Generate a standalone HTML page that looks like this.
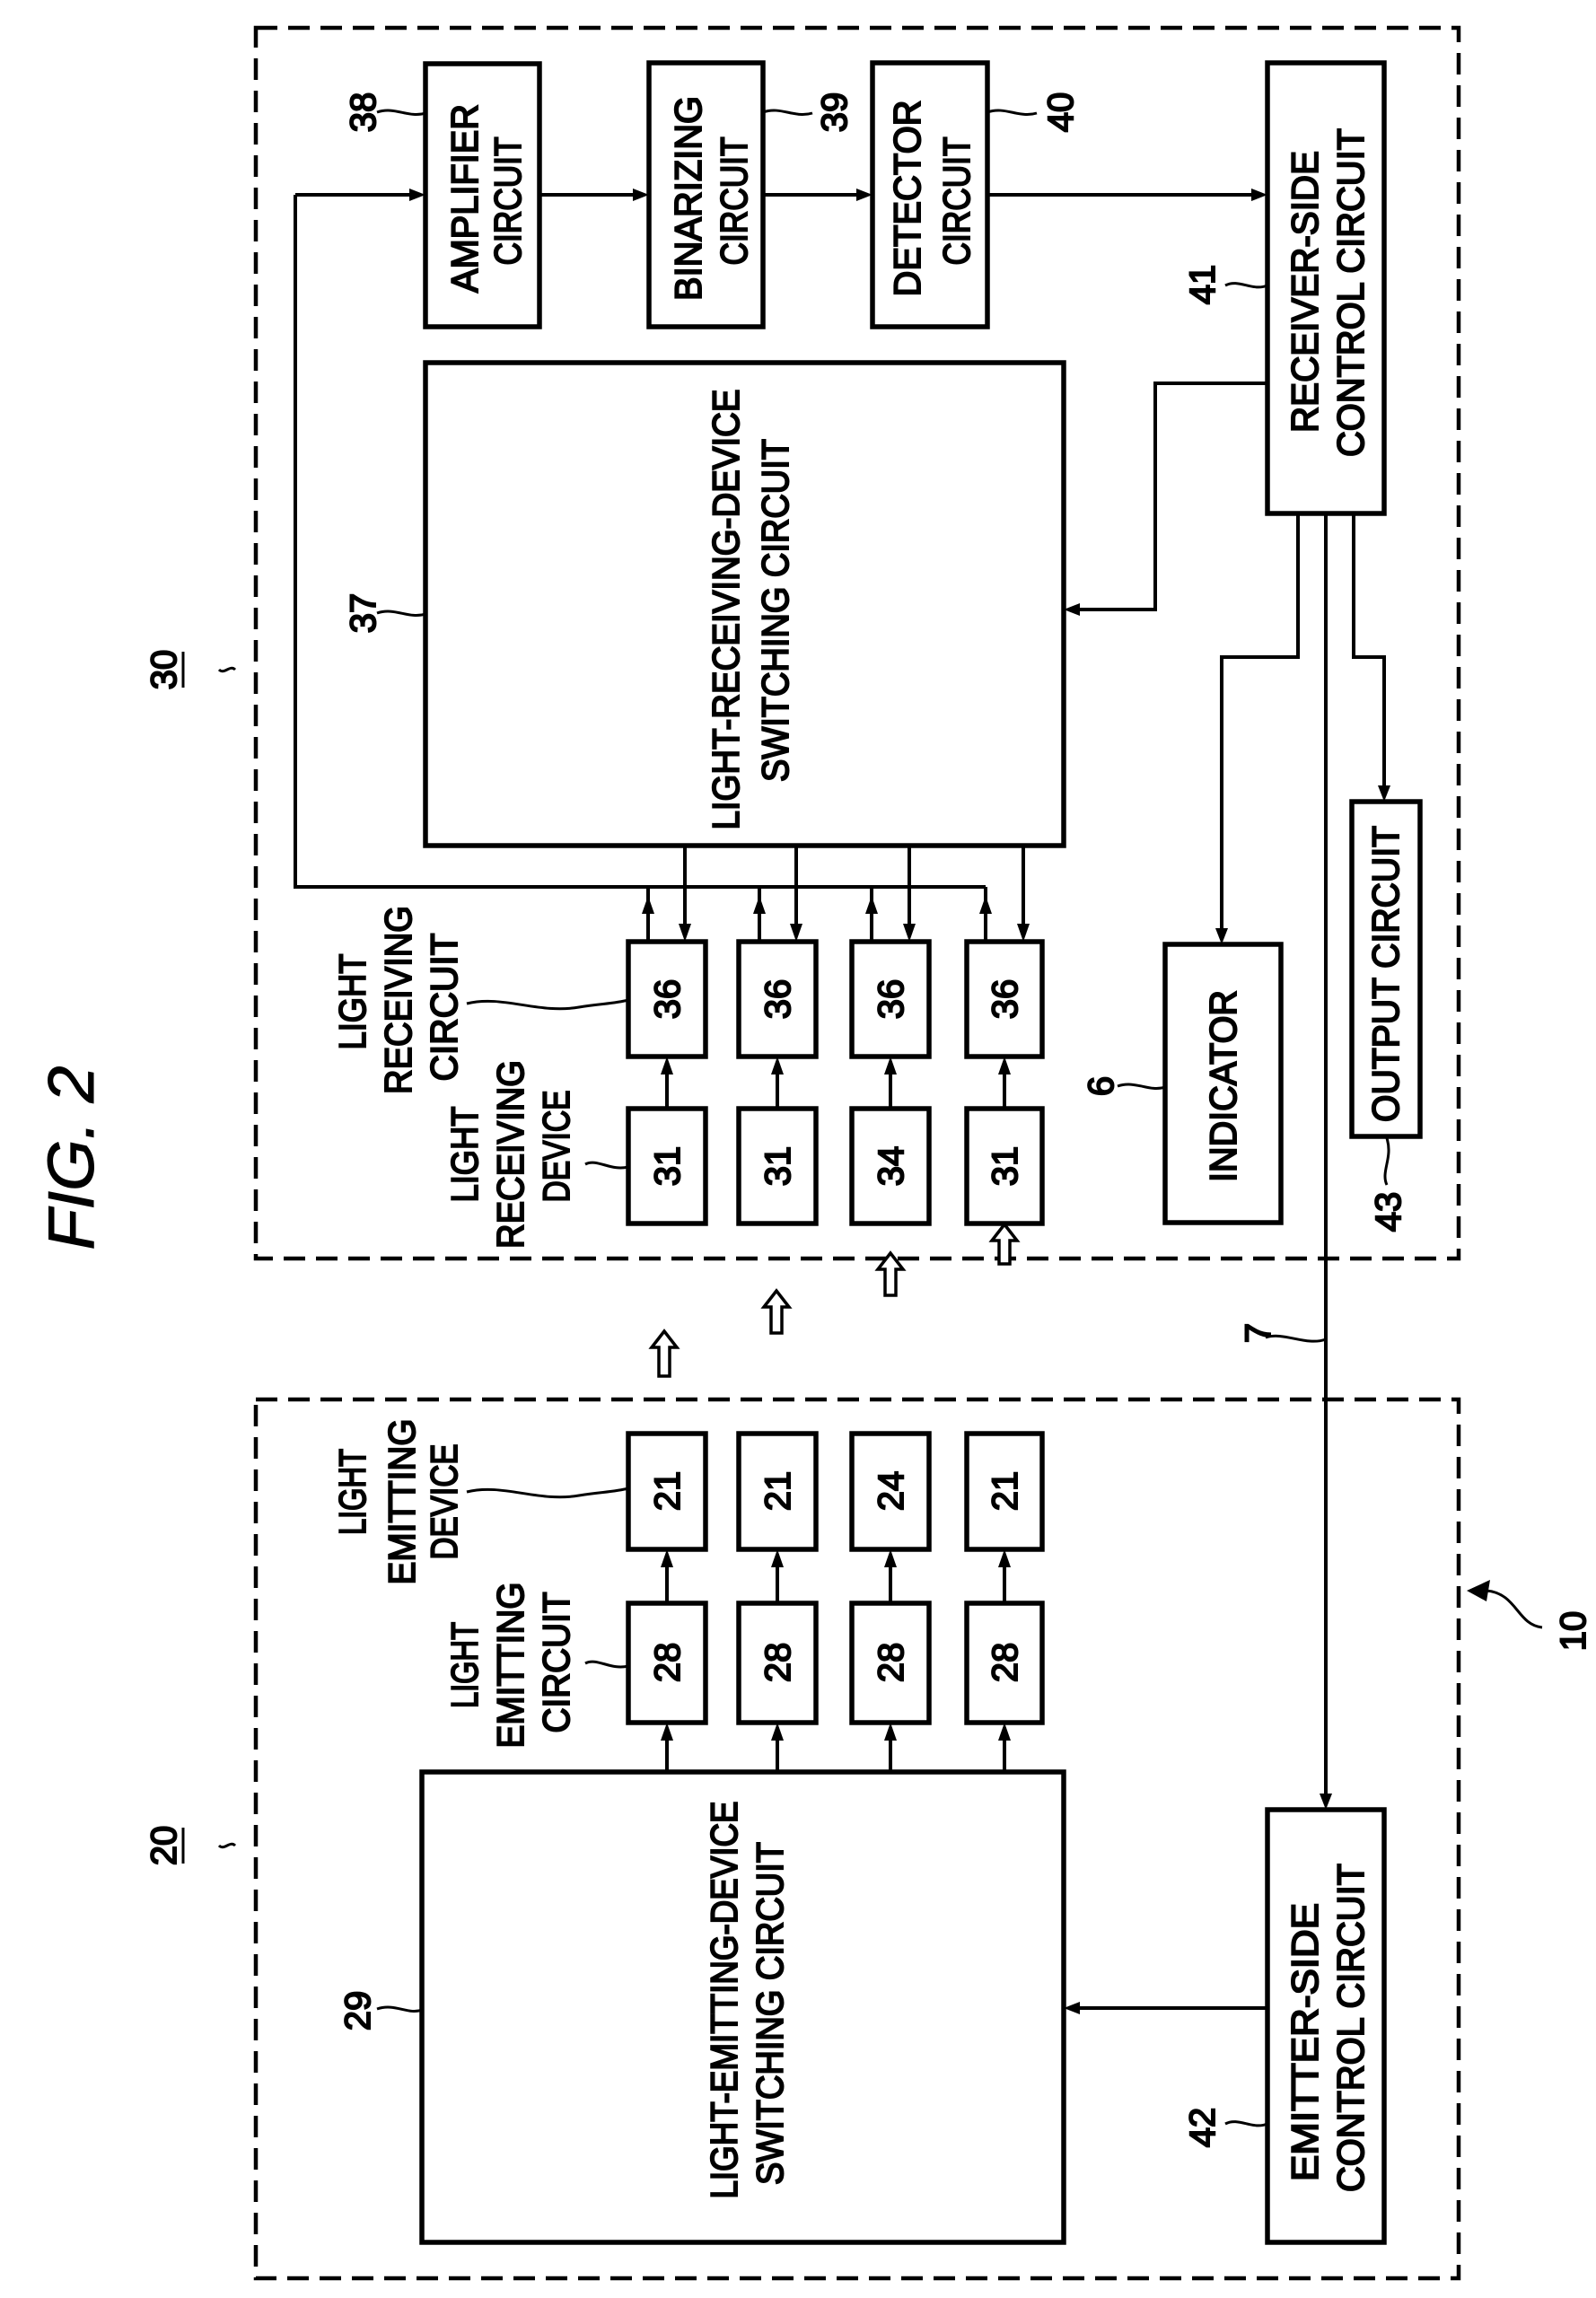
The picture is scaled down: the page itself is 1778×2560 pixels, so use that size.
<!DOCTYPE html>
<html><head><meta charset="utf-8"><style>html,body{margin:0;padding:0;background:#fff}svg{display:block}</style></head>
<body>
<svg width="1778" height="2560" viewBox="0 0 1778 2560" xmlns="http://www.w3.org/2000/svg" font-family="Liberation Sans, sans-serif">
<g fill="none" stroke="#000" stroke-width="4.5" stroke-dasharray="24 12">
<rect x="285" y="31" width="1340" height="1371"/>
<rect x="285" y="1559" width="1340" height="979"/>
</g>
<g fill="none" stroke="#000" stroke-width="5.5">
<rect x="474" y="71" width="127" height="293"/>
<rect x="723" y="70" width="127" height="294"/>
<rect x="972" y="70" width="128" height="294"/>
<rect x="1412" y="70" width="130" height="502"/>
<rect x="474" y="404" width="711" height="538"/>
<rect x="700" y="1049" width="86" height="128"/>
<rect x="823" y="1049" width="86" height="128"/>
<rect x="949" y="1049" width="86" height="128"/>
<rect x="1077" y="1049" width="84" height="128"/>
<rect x="700" y="1235" width="86" height="128"/>
<rect x="823" y="1235" width="86" height="128"/>
<rect x="949" y="1235" width="86" height="128"/>
<rect x="1077" y="1235" width="84" height="128"/>
<rect x="1298" y="1052" width="129" height="310"/>
<rect x="1506" y="893" width="76" height="373"/>
<rect x="700" y="1597" width="86" height="129"/>
<rect x="823" y="1597" width="86" height="129"/>
<rect x="949" y="1597" width="86" height="129"/>
<rect x="1077" y="1597" width="84" height="129"/>
<rect x="700" y="1786" width="86" height="133"/>
<rect x="823" y="1786" width="86" height="133"/>
<rect x="949" y="1786" width="86" height="133"/>
<rect x="1077" y="1786" width="84" height="133"/>
<rect x="470" y="1974" width="715" height="524"/>
<rect x="1412" y="2016" width="130" height="482"/>
</g>
<g fill="none" stroke="#000" stroke-width="4">
<path d="M329,217 V988 H1098"/>
<path d="M329,217 H462"/><path d="M601,217 H711"/><path d="M850,217 H960"/><path d="M1100,217 H1400"/>
<path d="M1412,427 H1287 V679 H1197"/>
<path d="M1446,572 V732 H1361 V1040"/>
<path d="M1477,572 V2004"/>
<path d="M1508,572 V732 H1542 V881"/>
<path d="M722,1049 V988"/><path d="M846,1049 V988"/><path d="M971,1049 V988"/><path d="M1098,1049 V988"/>
<path d="M763,942 V1037"/><path d="M887,942 V1037"/><path d="M1013,942 V1037"/><path d="M1140,942 V1037"/>
<path d="M743,1235 V1189"/><path d="M866,1235 V1189"/><path d="M992,1235 V1189"/><path d="M1119,1235 V1189"/>
<path d="M743,1786 V1738"/><path d="M866,1786 V1738"/><path d="M992,1786 V1738"/><path d="M1119,1786 V1738"/>
<path d="M743,1974 V1931"/><path d="M866,1974 V1931"/><path d="M992,1974 V1931"/><path d="M1119,1974 V1931"/>
<path d="M1412,2237 H1197"/>
</g>
<g fill="#000">
<polygon points="474,217 456,210 456,224"/>
<polygon points="723,217 705,210 705,224"/>
<polygon points="972,217 954,210 954,224"/>
<polygon points="1412,217 1394,210 1394,224"/>
<polygon points="1185,679 1203,672 1203,686"/>
<polygon points="1361,1052 1354,1034 1368,1034"/>
<polygon points="1477,2016 1470,1998 1484,1998"/>
<polygon points="1542,893 1535,875 1549,875"/>
<polygon points="722,998 715,1018 729,1018"/><polygon points="846,998 839,1018 853,1018"/><polygon points="971,998 964,1018 978,1018"/><polygon points="1098,998 1091,1018 1105,1018"/>
<polygon points="763,1049 756,1029 770,1029"/><polygon points="887,1049 880,1029 894,1029"/><polygon points="1013,1049 1006,1029 1020,1029"/><polygon points="1140,1049 1133,1029 1147,1029"/>
<polygon points="743,1177 736,1197 750,1197"/><polygon points="866,1177 859,1197 873,1197"/><polygon points="992,1177 985,1197 999,1197"/><polygon points="1119,1177 1112,1197 1126,1197"/>
<polygon points="743,1726 736,1746 750,1746"/><polygon points="866,1726 859,1746 873,1746"/><polygon points="992,1726 985,1746 999,1746"/><polygon points="1119,1726 1112,1746 1126,1746"/>
<polygon points="743,1919 736,1939 750,1939"/><polygon points="866,1919 859,1939 873,1939"/><polygon points="992,1919 985,1939 999,1939"/><polygon points="1119,1919 1112,1939 1126,1939"/>
<polygon points="1185,2237 1203,2230 1203,2244"/>
<polygon points="1634,1772 1660,1760 1656,1784"/>
</g>
<g fill="#fff" stroke="#000" stroke-width="3.5">
<path d="M1119,1364 l-14,18 h8 v26 h12 v-26 h8 z"/>
<path d="M992,1396 l-14,18 h8 v29 h12 v-29 h8 z"/>
<path d="M865,1438 l-14,18 h8 v29 h12 v-29 h8 z"/>
<path d="M740,1483 l-14,18 h8 v32 h12 v-32 h8 z"/>
</g>
<g fill="none" stroke="#000" stroke-width="3">
<path d="M1656,1772 C1690,1775 1690,1810 1718,1813"/>
<path d="M520,1118 C560,1108 600,1130 645,1122 C670,1118 685,1118 700,1114"/>
<path d="M652,1297 C665,1290 680,1305 700,1300"/>
<path d="M520,1662 C560,1652 600,1674 645,1666 C670,1662 685,1662 700,1658"/>
<path d="M652,1853 C665,1846 680,1861 700,1856"/>
<path d="M420,125 C440,118 455,132 474,126"/>
<path d="M850,125 C870,118 885,132 905,126"/>
<path d="M1100,125 C1120,118 1135,132 1155,126"/>
<path d="M1365,318 C1380,310 1395,325 1412,318"/>
<path d="M420,683 C440,676 455,690 474,684"/>
<path d="M1245,1210 C1265,1203 1280,1217 1298,1211"/>
<path d="M1545,1320 C1538,1305 1552,1290 1545,1268"/>
<path d="M1365,2366 C1380,2358 1395,2373 1412,2366"/>
<path d="M420,2238 C440,2231 455,2245 470,2239"/>
<path d="M1410,1490 C1430,1483 1455,1500 1477,1492"/>
<path d="M262,746 C256,740 250,752 244,746" />
<path d="M262,2056 C256,2050 250,2062 244,2056" />
</g>
<g fill="#000" stroke="#000" stroke-width="2" font-size="42" text-anchor="middle">
<text transform="translate(532,221) rotate(-90)" textLength="210" lengthAdjust="spacingAndGlyphs">AMPLIFIER</text>
<text transform="translate(580,224) rotate(-90)" textLength="143" lengthAdjust="spacingAndGlyphs">CIRCUIT</text>
<text transform="translate(781,221) rotate(-90)" textLength="228" lengthAdjust="spacingAndGlyphs">BINARIZING</text>
<text transform="translate(832,224) rotate(-90)" textLength="143" lengthAdjust="spacingAndGlyphs">CIRCUIT</text>
<text transform="translate(1025,221) rotate(-90)" textLength="219" lengthAdjust="spacingAndGlyphs">DETECTOR</text>
<text transform="translate(1080,224) rotate(-90)" textLength="143" lengthAdjust="spacingAndGlyphs">CIRCUIT</text>
<text transform="translate(1468,325) rotate(-90)" textLength="314" lengthAdjust="spacingAndGlyphs">RECEIVER-SIDE</text>
<text transform="translate(1519,326) rotate(-90)" textLength="366" lengthAdjust="spacingAndGlyphs">CONTROL CIRCUIT</text>
<text transform="translate(823,679) rotate(-90)" textLength="491" lengthAdjust="spacingAndGlyphs">LIGHT-RECEIVING-DEVICE</text>
<text transform="translate(878,680) rotate(-90)" textLength="382" lengthAdjust="spacingAndGlyphs">SWITCHING CIRCUIT</text>
<text transform="translate(1377,1210) rotate(-90)" textLength="214" lengthAdjust="spacingAndGlyphs">INDICATOR</text>
<text transform="translate(1558,1085) rotate(-90)" textLength="330" lengthAdjust="spacingAndGlyphs">OUTPUT CIRCUIT</text>
<text transform="translate(407,1116) rotate(-90)" textLength="107" lengthAdjust="spacingAndGlyphs">LIGHT</text>
<text transform="translate(458,1114) rotate(-90)" textLength="210" lengthAdjust="spacingAndGlyphs">RECEIVING</text>
<text transform="translate(509,1122) rotate(-90)" textLength="165" lengthAdjust="spacingAndGlyphs">CIRCUIT</text>
<text transform="translate(532,1286) rotate(-90)" textLength="107" lengthAdjust="spacingAndGlyphs">LIGHT</text>
<text transform="translate(583,1286) rotate(-90)" textLength="210" lengthAdjust="spacingAndGlyphs">RECEIVING</text>
<text transform="translate(634,1277) rotate(-90)" textLength="125" lengthAdjust="spacingAndGlyphs">DEVICE</text>
<text transform="translate(407,1662) rotate(-90)" textLength="96" lengthAdjust="spacingAndGlyphs">LIGHT</text>
<text transform="translate(462,1673) rotate(-90)" textLength="185" lengthAdjust="spacingAndGlyphs">EMITTING</text>
<text transform="translate(509,1673) rotate(-90)" textLength="129" lengthAdjust="spacingAndGlyphs">DEVICE</text>
<text transform="translate(532,1855) rotate(-90)" textLength="96" lengthAdjust="spacingAndGlyphs">LIGHT</text>
<text transform="translate(583,1855) rotate(-90)" textLength="185" lengthAdjust="spacingAndGlyphs">EMITTING</text>
<text transform="translate(634,1852) rotate(-90)" textLength="157" lengthAdjust="spacingAndGlyphs">CIRCUIT</text>
<text transform="translate(821,2228) rotate(-90)" textLength="443" lengthAdjust="spacingAndGlyphs">LIGHT-EMITTING-DEVICE</text>
<text transform="translate(872,2243) rotate(-90)" textLength="382" lengthAdjust="spacingAndGlyphs">SWITCHING CIRCUIT</text>
<text transform="translate(1468,2275) rotate(-90)" textLength="310" lengthAdjust="spacingAndGlyphs">EMITTER-SIDE</text>
<text transform="translate(1519,2259) rotate(-90)" textLength="366" lengthAdjust="spacingAndGlyphs">CONTROL CIRCUIT</text>
</g>
<g fill="#000" stroke="#000" stroke-width="2" font-size="40" text-anchor="middle">
<text transform="translate(757,1113) rotate(-90)">36</text>
<text transform="translate(880,1113) rotate(-90)">36</text>
<text transform="translate(1006,1113) rotate(-90)">36</text>
<text transform="translate(1133,1113) rotate(-90)">36</text>
<text transform="translate(757,1299) rotate(-90)">31</text>
<text transform="translate(880,1299) rotate(-90)">31</text>
<text transform="translate(1006,1299) rotate(-90)">34</text>
<text transform="translate(1133,1299) rotate(-90)">31</text>
<text transform="translate(757,1661) rotate(-90)">21</text>
<text transform="translate(880,1661) rotate(-90)">21</text>
<text transform="translate(1006,1661) rotate(-90)">24</text>
<text transform="translate(1133,1661) rotate(-90)">21</text>
<text transform="translate(757,1852) rotate(-90)">28</text>
<text transform="translate(880,1852) rotate(-90)">28</text>
<text transform="translate(1006,1852) rotate(-90)">28</text>
<text transform="translate(1133,1852) rotate(-90)">28</text>
<text transform="translate(418,125) rotate(-90)">38</text>
<text transform="translate(943,125) rotate(-90)">39</text>
<text transform="translate(1195,125) rotate(-90)">40</text>
<text transform="translate(1353,317) rotate(-90)">41</text>
<text transform="translate(418,683) rotate(-90)">37</text>
<text transform="translate(1240,1210) rotate(-90)">6</text>
<text transform="translate(1560,1350) rotate(-90)">43</text>
<text transform="translate(1415,1485) rotate(-90)">7</text>
<text transform="translate(1766,1817) rotate(-90)">10</text>
<text transform="translate(412,2240) rotate(-90)">29</text>
<text transform="translate(1353,2370) rotate(-90)">42</text>
<text transform="translate(196,746) rotate(-90)">30</text>
<text transform="translate(196,2056) rotate(-90)">20</text>
<path d="M204,726 V766" stroke-width="3"/>
<path d="M204,2036 V2076" stroke-width="3"/>
</g>
<text transform="translate(104,1290) rotate(-90)" font-size="72" font-style="italic" text-anchor="middle" textLength="205" lengthAdjust="spacingAndGlyphs" fill="#000" stroke="#000" stroke-width="1">FIG. 2</text>
</svg>
</body></html>
